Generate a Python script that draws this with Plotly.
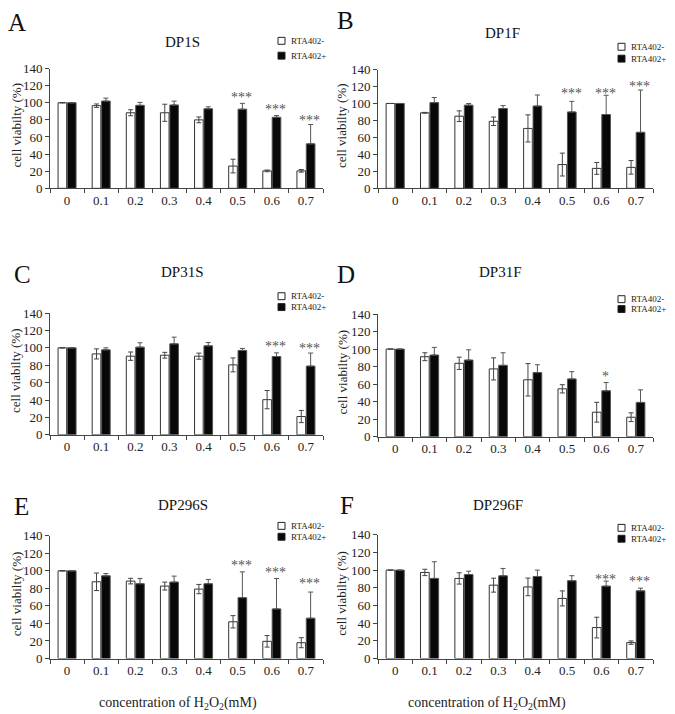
import plotly.graph_objects as go

# ---------------- data ----------------
conc = ["0", "0.1", "0.2", "0.3", "0.4", "0.5", "0.6", "0.7"]
series_names = ["RTA402-", "RTA402+"]
titles = ["DP1S", "DP1F", "DP31S", "DP31F", "DP296S", "DP296F"]
letters = ["A", "B", "C", "D", "E", "F"]

a_minus = [100, 96.6, 88.3, 88.3, 80, 26, 20.4, 20.4]
a_minus_err = [0, 2, 3.5, 10, 3.4, 8, 1, 1.5]
a_plus = [100, 102, 97, 97.4, 93, 92.5, 83, 52]
a_plus_err = [0, 3.4, 3.4, 4.5, 2.3, 6.8, 2, 22.6]
a_sig = ["", "", "", "", "", "***", "***", "***"]
a_sig_y = [0, 0, 0, 0, 0, 110, 96, 83]

b_minus = [100, 89, 85, 79, 70.6, 28, 23.5, 24.7]
b_minus_err = [0, 0.5, 6.3, 5, 16, 13.5, 7, 8]
b_plus = [100, 101, 98, 94, 97, 90, 87, 66]
b_plus_err = [0, 6, 2, 3.5, 13, 12.5, 22.7, 49.8]
b_sig = ["", "", "", "", "", "***", "***", "***"]
b_sig_y = [0, 0, 0, 0, 0, 115.7, 115.7, 123.5]

c_minus = [100, 93, 90.4, 91.5, 90.4, 80.4, 40.4, 21]
c_minus_err = [0, 5.8, 4.8, 3.3, 3.5, 8, 10.5, 7]
c_plus = [100, 97.7, 100.8, 104.6, 102.3, 97, 90, 79]
c_plus_err = [0, 2.3, 5, 7.7, 3.8, 2.3, 4.2, 15]
c_sig = ["", "", "", "", "", "", "***", "***"]
c_sig_y = [0, 0, 0, 0, 0, 0, 104.6, 102.7]

d_minus = [100, 91.3, 83.8, 77.4, 65, 54.7, 28, 22.3]
d_minus_err = [0, 4.5, 7, 12.6, 18.5, 4.7, 11.3, 5]
d_plus = [100, 93.2, 87.5, 81.5, 73.2, 66, 52.5, 39.2]
d_plus_err = [0, 8.7, 11.7, 14.3, 9, 8.3, 9.4, 14.3]
d_sig = ["", "", "", "", "", "", "*", ""]
d_sig_y = [0, 0, 0, 0, 0, 0, 71.7, 0]

e_minus = [100, 87.5, 88.3, 82.6, 79.2, 41.9, 19.6, 18]
e_minus_err = [0, 10, 3.2, 4.5, 5.3, 7, 6.6, 5.7]
e_plus = [100, 94.3, 85.3, 87.2, 85.3, 69.4, 56.6, 46]
e_plus_err = [0, 2.6, 6, 6.8, 4.9, 29.4, 34.7, 29.8]
e_sig = ["", "", "", "", "", "***", "***", "***"]
e_sig_y = [0, 0, 0, 0, 0, 110, 102, 88.7]

f_minus = [100, 97.4, 90.6, 83, 81, 68, 35, 18]
f_minus_err = [0, 3.6, 6.4, 7.9, 10, 8.5, 11.7, 1.9]
f_plus = [100, 90.6, 95, 93.6, 92.8, 88, 81.9, 76.6]
f_plus_err = [0, 18.9, 3.8, 8.3, 7.2, 5.7, 5.7, 3]
f_sig = ["", "", "", "", "", "", "***", "***"]
f_sig_y = [0, 0, 0, 0, 0, 0, 92.5, 90]

y_ticks = [0, 20, 40, 60, 80, 100, 120, 140]
y_title = "cell viabilty (%)"
x_title = "concentration of H<sub>2</sub>O<sub>2</sub>(mM)"

panels = [
    (a_minus, a_minus_err, a_plus, a_plus_err, a_sig, a_sig_y),
    (b_minus, b_minus_err, b_plus, b_plus_err, b_sig, b_sig_y),
    (c_minus, c_minus_err, c_plus, c_plus_err, c_sig, c_sig_y),
    (d_minus, d_minus_err, d_plus, d_plus_err, d_sig, d_sig_y),
    (e_minus, e_minus_err, e_plus, e_plus_err, e_sig, e_sig_y),
    (f_minus, f_minus_err, f_plus, f_plus_err, f_sig, f_sig_y),
]

# ---------------- layout geometry (target page pixels) ----------------
W, H = 675, 714
PAGE_OFF = 8        # body margin of the html page
PAGE_SCALE = 0.989  # vertical scale observed in the photograph
FONT = "Liberation Serif"
# plot area: x-left, x-right, y(140), y(0)
boxes = [
    (50, 323, 62, 183),
    (378, 653, 63, 183),
    (50, 323, 309, 432),
    (378, 653, 310, 434),
    (50, 323, 534, 658),
    (378, 653, 533, 658),
]
letter_pos = [(17, 15), (345, 13), (22, 270), (346, 270), (21, 504), (347, 503)]
title_pos = [(182, 35), (502, 26), (182, 268), (500, 268), (183, 503), (498, 503)]
legend_rows = [(34, 49), (40, 52), (292, 303), (295, 305), (524, 535), (526, 537)]
legend_x = [278, 618]
ytitle_x = [16, 342, 16, 342, 16, 342]
xtitle_pos = [(178, 703), (487, 703)]


def px(x):
    return (x - PAGE_OFF) / W


def py(y):
    return 1 - (y / PAGE_SCALE - PAGE_OFF) / H


def label(x, y, text, size, color="#222222", angle=0, xanchor="center"):
    return dict(x=px(x), y=py(y), xref="paper", yref="paper", text=text,
                showarrow=False, xanchor=xanchor, yanchor="middle",
                textangle=angle, font=dict(family=FONT, size=size, color=color))


fig = go.Figure()
annotations = []
shapes = []
layout = {}

for i, (mn, mn_err, pl, pl_err, sig, sig_y) in enumerate(panels):
    n = "" if i == 0 else str(i + 1)
    xa, ya = "x" + n, "y" + n
    fig.add_trace(go.Bar(
        x=conc, y=mn, name=series_names[0], xaxis=xa, yaxis=ya,
        offsetgroup="minus", showlegend=False,
        marker=dict(color="white", line=dict(color="#333333", width=1)),
        error_y=dict(type="data", array=mn_err, color="#444444",
                     thickness=1, width=2.5),
    ))
    fig.add_trace(go.Bar(
        x=conc, y=pl, name=series_names[1], xaxis=xa, yaxis=ya,
        offsetgroup="plus", showlegend=False,
        marker=dict(color="#080808", line=dict(color="#555555", width=1)),
        error_y=dict(type="data", symmetric=False, array=pl_err,
                     arrayminus=[0] * len(pl), color="#555555",
                     thickness=1, width=2.5),
    ))
    x0, x1, ytop, ybot = boxes[i]
    layout["xaxis" + n] = dict(
        domain=[px(x0), px(x1)], anchor=ya, type="category",
        range=[-0.5, len(conc) - 0.5], showline=True, linecolor="#444444",
        linewidth=1, ticks="outside", tickson="boundaries", ticklen=4,
        tickcolor="#444444", showgrid=False, zeroline=False,
        tickfont=dict(family=FONT, size=13, color="#222222"),
    )
    layout["yaxis" + n] = dict(
        domain=[py(ybot), py(ytop)], anchor=xa, range=[0, 140],
        tickmode="array", tickvals=y_ticks, showline=True,
        linecolor="#444444", linewidth=1, ticks="outside", ticklen=4,
        tickcolor="#444444", showgrid=False, zeroline=False,
        tickfont=dict(family=FONT, size=13, color="#222222"),
    )
    # significance marks (x given as category index)
    for k, s in enumerate(sig):
        if s:
            annotations.append(dict(
                x=k, y=sig_y[k], xref=xa, yref=ya, text=s,
                showarrow=False, xanchor="center", yanchor="middle",
                xshift=4, yshift=-3,
                font=dict(family=FONT, size=14, color="#555555"),
            ))
    annotations.append(label(*letter_pos[i], letters[i], 25, "#111111"))
    annotations.append(label(*title_pos[i], titles[i], 15, "#111111"))
    annotations.append(label(ytitle_x[i], (ytop + ybot) / 2 - 3, y_title, 13, angle=-90))
    # legend (manual, compact)
    sx = legend_x[i % 2]
    for r, (name, fill) in enumerate(zip(series_names, ["white", "#080808"])):
        ry = legend_rows[i][r]
        shapes.append(dict(type="rect", xref="paper", yref="paper",
                           x0=px(sx), x1=px(sx + 7), y0=py(ry + 3.5), y1=py(ry - 3.5),
                           fillcolor=fill, line=dict(color="#222222", width=1)))
        annotations.append(label(sx + 11, ry, name, 9, xanchor="left"))

for (xx, yy) in xtitle_pos:
    annotations.append(label(xx, yy, x_title, 14))

fig.update_layout(
    width=W, height=H, margin=dict(l=0, r=0, t=0, b=0),
    paper_bgcolor="white", plot_bgcolor="white",
    barmode="group", bargap=0.45, bargroupgap=0.08,
    showlegend=False, annotations=annotations, shapes=shapes,
    **layout,
)

fig.write_html("out.html")
